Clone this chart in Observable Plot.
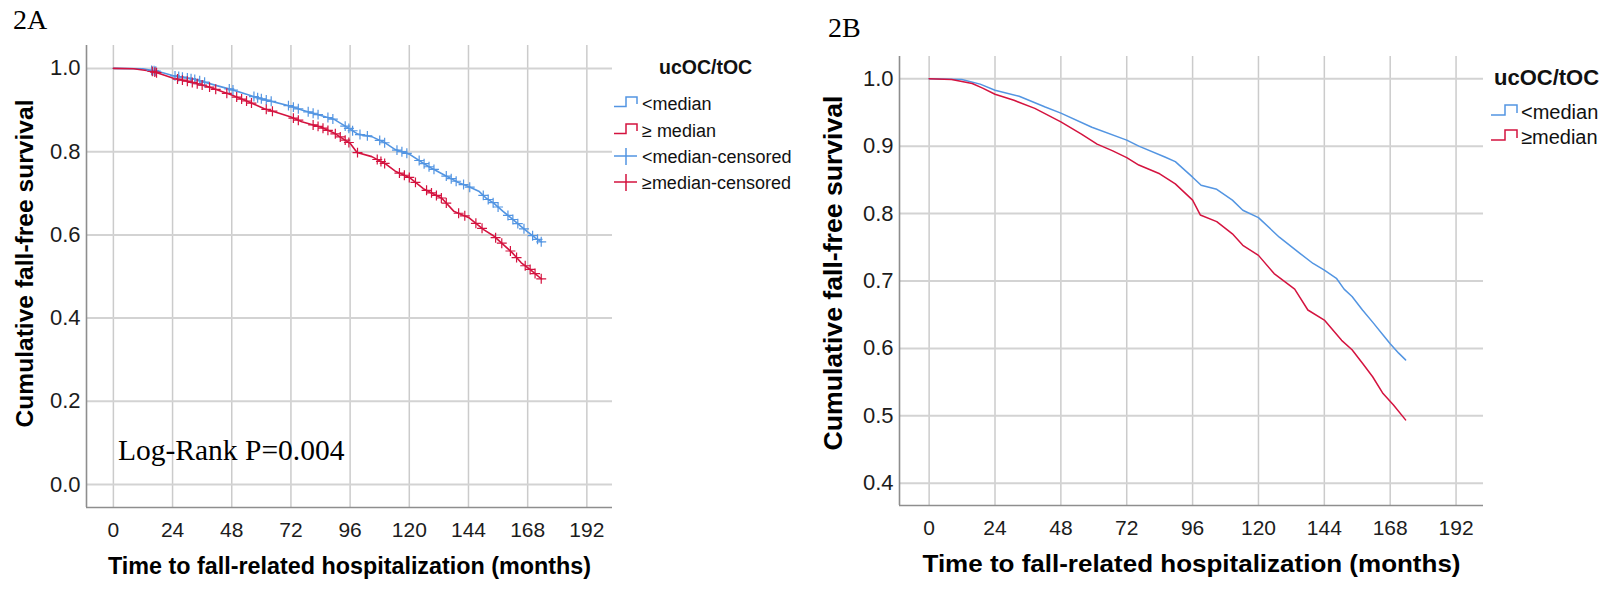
<!DOCTYPE html>
<html>
<head>
<meta charset="utf-8">
<script src="https://cdn.jsdelivr.net/npm/d3@7"></script>
<script src="https://cdn.jsdelivr.net/npm/@observablehq/plot@0.6"></script>
<style>
  html, body { margin: 0; padding: 0; background: #fff; }
  #root { position: relative; width: 1616px; height: 592px; overflow: hidden; font-family: "Liberation Sans", Arial, sans-serif; }
  #root > svg, #root > figure { position: absolute; top: 0; margin: 0; }
</style>
</head>
<body>
<div id="root"></div>
<script>
// ---------- data ----------
const xTicks = [0, 24, 48, 72, 96, 120, 144, 168, 192];
const yTicksA = [0.0, 0.2, 0.4, 0.6, 0.8, 1.0];
const yTicksB = [0.4, 0.5, 0.6, 0.7, 0.8, 0.9, 1.0];
const xTitle = "Time to fall-related hospitalization (months)";
const yTitle = "Cumulative fall-free survival";
const legendTitle = "ucOC/tOC";
const legendLabelsA = ["<median", "\u2265 median", "<median-censored", "\u2265median-censored"];
const legendLabelsB = ["<median", "\u2265median"];
const panelLabels = ["2A", "2B"];
const logRankText = "Log-Rank P=0.004";

// ucOC/tOC < median
const timesLow = [0, 11.9, 18.6, 24, 32.8, 42.3, 48, 59.3, 72, 76.4, 85.9, 89.7, 96, 99.1, 104.8, 110.5, 114.3, 120, 127.6, 135.1, 139.9, 144, 148.4, 151.2, 154.1, 157.9, 161.6, 165.4, 168, 171.1, 173.6];
const survLow  = [1, 0.999, 0.992, 0.983, 0.974, 0.958, 0.949, 0.928, 0.909, 0.900, 0.884, 0.877, 0.854, 0.842, 0.836, 0.820, 0.805, 0.794, 0.765, 0.741, 0.726, 0.716, 0.704, 0.688, 0.677, 0.657, 0.639, 0.620, 0.607, 0.593, 0.583];
// ucOC/tOC >= median
const timesHigh = [0, 8.2, 15.7, 19.5, 24, 30.9, 38.5, 48, 55.5, 61.2, 66.9, 72, 76.4, 84, 89.7, 96, 98.8, 104.8, 110.5, 114.3, 120, 125.7, 133.2, 138, 144, 150.3, 154.1, 157.9, 161.6, 165.4, 169.2, 173.6];
const survHigh  = [1, 0.999, 0.993, 0.986, 0.977, 0.968, 0.956, 0.936, 0.918, 0.903, 0.893, 0.883, 0.872, 0.859, 0.844, 0.820, 0.798, 0.788, 0.770, 0.753, 0.738, 0.711, 0.688, 0.657, 0.642, 0.612, 0.598, 0.578, 0.558, 0.533, 0.516, 0.494];
// censoring times
const censorLow  = [15.5, 16.5, 17.2, 25, 26.5, 28, 30, 31.5, 33, 35, 37, 47, 48.5, 57, 58.5, 60, 62, 64, 71, 73, 75, 79, 81, 83, 87, 89, 94, 95.5, 97, 100, 103, 108, 110, 115, 117, 119, 124, 126, 128, 130, 135, 137, 139, 142, 144.5, 150, 152, 154, 156, 160, 162, 164, 166.5, 170, 172, 173.5];
const censorHigh = [15.8, 16.8, 17.5, 26, 28, 30, 32, 34, 36, 39, 41.5, 46, 50, 52, 54, 56, 62, 64.5, 73, 75, 81, 83, 85, 87, 90, 92, 94, 95.5, 99, 107, 108.5, 110, 116, 118, 120, 122.5, 127, 129, 131, 133, 135, 140, 142.5, 147, 149.5, 155, 157.5, 161, 163.5, 167, 169, 171, 173.5];

const colorLow = "#5395E2";
const colorHigh = "#D4133F";

// ---------- derived tables ----------
const lowData = timesLow.map((t, i) => ({t, s: survLow[i]}));
const highData = timesHigh.map((t, i) => ({t, s: survHigh[i]}));
const fLow = d3.scaleLinear().domain(timesLow).range(survLow);
const fHigh = d3.scaleLinear().domain(timesHigh).range(survHigh);
const censorLowData = censorLow.map(t => ({t, s: fLow(t)}));
const censorHighData = censorHigh.map(t => ({t, s: fHigh(t)}));

function panel(o) {
  const marks = [
    Plot.gridX(xTicks, {stroke: "#cbcbcb", strokeOpacity: 1, strokeWidth: 1.5}),
    Plot.gridY(o.yTicks, {stroke: "#d3d3d3", strokeOpacity: 1, strokeWidth: 2}),
    Plot.ruleX([o.xDomain[0]], {stroke: "#8e8e8e", strokeWidth: 1.6}),
    Plot.ruleY([o.yDomain[0]], {stroke: "#8e8e8e", strokeWidth: 1.6}),
    Plot.axisX(xTicks, {tickSize: 0, tickPadding: o.xPad, fontSize: o.xFont, label: null, color: "#1c1c1c"}),
    Plot.axisY(o.yTicks, {tickSize: 0, tickPadding: 6, fontSize: o.yFont, label: null, color: "#1c1c1c", tickFormat: d => d.toFixed(1)}),
    Plot.line(lowData, {x: "t", y: "s", stroke: colorLow, strokeWidth: o.lw}),
    Plot.line(highData, {x: "t", y: "s", stroke: colorHigh, strokeWidth: o.lw})
  ];
  if (o.censor) {
    marks.push(Plot.dot(censorLowData, {x: "t", y: "s", symbol: "plus", r: 3.3, stroke: colorLow, strokeWidth: 1.2}));
    marks.push(Plot.dot(censorHighData, {x: "t", y: "s", symbol: "plus", r: 3.3, stroke: colorHigh, strokeWidth: 1.2}));
  }
  marks.push(Plot.text([xTitle], {text: d => d, frameAnchor: "bottom", textAnchor: "middle", dy: o.xTitleDy, fontSize: o.xTitleFont, fontWeight: "bold", fill: "#000"}));
  marks.push(Plot.text([yTitle], {text: d => d, frameAnchor: "left", textAnchor: "middle", rotate: -90, dx: o.yTitleDx, dy: o.yTitleDy, fontSize: o.yTitleFont, fontWeight: "bold", fill: "#000"}));
  const svg = Plot.plot({
    width: o.width, height: 592,
    marginLeft: o.ml, marginRight: o.mr, marginTop: o.mt, marginBottom: o.mb,
    x: {domain: o.xDomain},
    y: {domain: o.yDomain},
    style: {background: "transparent", fontFamily: "'Liberation Sans', Arial, sans-serif", overflow: "visible"},
    marks
  });
  svg.style.left = o.left + "px";
  svg.querySelectorAll("text").forEach(t => {
    if (t.textContent === xTitle) { t.setAttribute("textLength", o.xTitleLen); t.setAttribute("lengthAdjust", "spacingAndGlyphs"); }
    if (t.textContent === yTitle) { t.setAttribute("textLength", o.yTitleLen); t.setAttribute("lengthAdjust", "spacingAndGlyphs"); }
  });
  return svg;
}

const root = document.getElementById("root");
root.appendChild(panel({
  left: 0, width: 800, ml: 86, mr: 188, mt: 45, mb: 85,
  xDomain: [-10.9, 202.4], yDomain: [-0.055, 1.055], yTicks: yTicksA,
  xPad: 15, xFont: 21, yFont: 22, lw: 1.6, censor: true,
  xTitleDy: 66, xTitleFont: 23, xTitleLen: 483,
  yTitleDx: -61, yTitleDy: -13, yTitleFont: 24, yTitleLen: 328
}));
root.appendChild(panel({
  left: 800, width: 816, ml: 99, mr: 133, mt: 56, mb: 87,
  xDomain: [-10.8, 202], yDomain: [0.367, 1.033], yTicks: yTicksB,
  xPad: 15, xFont: 21, yFont: 22, lw: 1.5, censor: false,
  xTitleDy: 66, xTitleFont: 24, xTitleLen: 538,
  yTitleDx: -66, yTitleDy: -8, yTitleFont: 26, yTitleLen: 355
}));

// ---------- overlay: panel labels, legends, annotation ----------
const ns = "http://www.w3.org/2000/svg";
const ov = document.createElementNS(ns, "svg");
ov.setAttribute("width", 1616); ov.setAttribute("height", 592);
ov.style.left = "0px"; ov.style.pointerEvents = "none";
root.appendChild(ov);
function txt(x, y, s, attrs) {
  const t = document.createElementNS(ns, "text");
  t.setAttribute("x", x); t.setAttribute("y", y);
  for (const k in attrs) t.setAttribute(k, attrs[k]);
  t.textContent = s; ov.appendChild(t); return t;
}
function path(d, stroke, w) {
  const p = document.createElementNS(ns, "path");
  p.setAttribute("d", d); p.setAttribute("fill", "none"); p.setAttribute("stroke", stroke); p.setAttribute("stroke-width", w);
  ov.appendChild(p);
}
const serif = "'Liberation Serif', 'Times New Roman', serif";
const sans = "'Liberation Sans', Arial, sans-serif";
txt(13, 29, panelLabels[0], {"font-family": serif, "font-size": 28, fill: "#000"});
txt(828, 37, panelLabels[1], {"font-family": serif, "font-size": 28, fill: "#000"});
txt(118, 460, logRankText, {"font-family": serif, "font-size": 29.5, fill: "#000"});

// legend A
txt(659, 73.5, legendTitle, {"font-family": sans, "font-size": 19.5, "font-weight": "bold", fill: "#111"});
const lgA = [
  {y: 103, label: legendLabelsA[0], color: colorLow, kind: "step"},
  {y: 130, label: legendLabelsA[1], color: colorHigh, kind: "step"},
  {y: 156, label: legendLabelsA[2], color: colorLow, kind: "cross"},
  {y: 182, label: legendLabelsA[3], color: colorHigh, kind: "cross"}
];
lgA.forEach(e => {
  if (e.kind === "step") path(`M614,${e.y + 3.5} H626 V${e.y - 6} H637 V${e.y + 1}`, e.color, 1.5);
  else path(`M614,${e.y} H637 M626,${e.y - 8} V${e.y + 9}`, e.color, 1.5);
  txt(642, e.y + 6.5, e.label, {"font-family": sans, "font-size": 18, fill: "#111"});
});
// legend B
txt(1494, 85, legendTitle, {"font-family": sans, "font-size": 22, "font-weight": "bold", fill: "#111"});
[{y: 112, label: legendLabelsB[0], color: colorLow}, {y: 137, label: legendLabelsB[1], color: colorHigh}].forEach(e => {
  path(`M1491,${e.y + 3} H1505 V${e.y - 7} H1517 V${e.y + 1}`, e.color, 1.5);
  txt(1521, e.y + 7, e.label, {"font-family": sans, "font-size": 20, fill: "#111"});
});
</script>
</body>
</html>
